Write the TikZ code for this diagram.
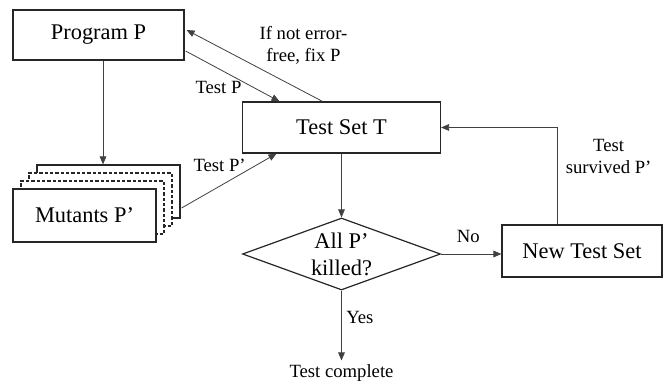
\documentclass[tikz,border=0pt]{standalone}
\usepackage{fontspec}
\setmainfont{Liberation Serif}
\usetikzlibrary{shapes.geometric,arrows.meta,calc}

\begin{document}
\begin{tikzpicture}[x=0.75pt,y=-0.75pt,
    box/.style={draw=black!85,line width=0.9pt,fill=white,inner sep=0pt,align=center,
      font=\fontsize{16.8}{20.25}\selectfont},
    sheet/.style={box,minimum width=107.25pt,minimum height=39.75pt},
    hidden/.style={sheet,dash pattern=on 2.4pt off 1.6pt},
    flow/.style={draw=black!75,line width=0.6pt,-{Triangle[length=6pt,width=5pt]}},
    note/.style={font=\fontsize{14}{17}\selectfont,align=center}
  ]
  \useasboundingbox (0,0) rectangle (664,381);

  \node[box,minimum width=128.25pt,minimum height=37.5pt] (prog) at (98.5,35) {Program P};
  \node[box,minimum width=148.5pt,minimum height=38.25pt] (test) at (341.5,127.5) {Test Set T};

  % stack of mutants
  \node[sheet] (mut3) at (108.5,191.5) {};
  \foreach \k in {2,1}
    \node[hidden] (mut\k) at ({84.5+8*\k},{215.5-8*\k}) {};
  \node[sheet] (mut) at (84.5,215.5) {Mutants P’};

  \node[box,diamond,aspect=2.75,minimum width=148.5pt,minimum height=54pt] (check) at (341.5,254) {All P’\\killed?};
  \node[box,minimum width=120pt,minimum height=39pt] (newset) at (582,251) {New Test Set};
  \node[note,inner sep=2.5pt,anchor=base] (done) at (341.5,377) {Test complete};

  \coordinate (drop) at ($(prog.south)+(4.5,0)$);
  \draw[flow] (drop) -- (drop |- mut3.north);
  \draw[flow] ($(prog.east)+(1,16)$) -- node[note,pos=0.35,below=6pt] (lblp) {Test P} ($(test.north)+(-62,0)$);
  \draw[flow] ($(test.north)+(-19,0)$) -- node[note,pos=0.14,above=16.5pt] (lblfix) {If not error-\\free, fix P} ($(prog.east)+(2,-5)$);
  \draw[flow] ($(mut3.east)+(1,16.5)$) -- node[note,pos=0.4,above=7.5pt] (lblpm) {Test P’} ($(test.south)+(-65,0)$);
  \draw[flow] (test.south) -- (check.north);
  \draw[flow] (check.east) -- node[note,pos=0.45,above=4.5pt] (lblno) {No} (check.east -| newset.west);
  \draw[flow] (check.south) -- node[note,pos=0.38,right] (lblyes) {Yes} (done.north);

  \coordinate (rise) at ($(newset.north)+(-25,0)$);
  \draw[flow] (rise) |- node[note,pos=0.35,right=3pt] (lblsurv) {Test\\survived P’} (test.east);
\end{tikzpicture}
\end{document}
